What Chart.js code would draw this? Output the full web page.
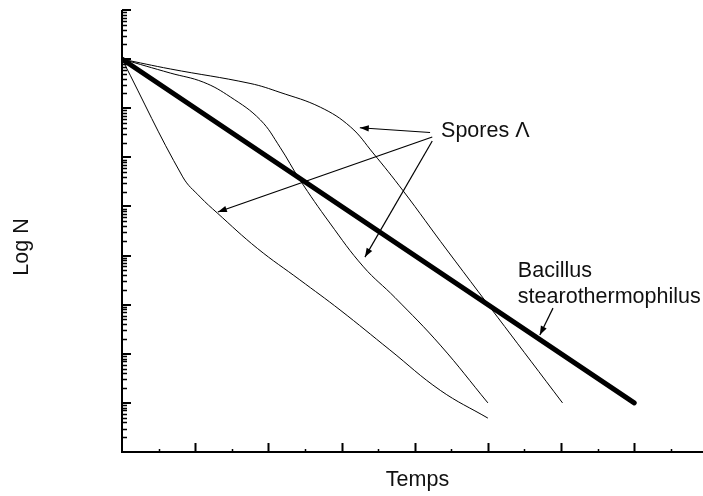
<!DOCTYPE html>
<html>
<head>
<meta charset="utf-8">
<script src="https://cdn.jsdelivr.net/npm/chart.js@4"></script>
<style>
  body { margin: 0; background: #fff; overflow: hidden; }
</style>
</head>
<body>
<canvas id="chart" width="703" height="496"></canvas>
<script>
"use strict";
// time (arbitrary units, one per major tick) and N values
const bacillusT = [0, 7];
const bacillusN = [1e8, 10];

const sporesFastT = [0, 0.83, 1.07, 1.30, 1.85, 2.43, 2.98, 3.66, 4.35, 5.0];
const sporesFastN = [1e8, 4.0e5, 1.55e5, 7.4e4, 1.4e4, 3.2e3, 780, 120, 18, 4.9];

const sporesMidT = [0, 0.66, 1.11, 1.48, 1.89, 2.16, 2.43, 2.84, 3.30, 3.73, 4.35, 5.0];
const sporesMidN = [1e8, 5.2e7, 3.4e7, 1.7e7, 5.8e6, 1.6e6, 3.5e5, 4.6e4, 5.9e3, 1.4e3, 150, 10];

const sporesSlowT = [0, 0.66, 1.75, 2.16, 2.71, 3.12, 3.43, 3.84, 4.44, 6.02];
const sporesSlowN = [1e8, 6.3e7, 3.2e7, 2.1e7, 1.05e7, 4.2e6, 1.23e6, 2.1e5, 1.3e4, 10];

// axis ticks
const majorT = [1, 2, 3, 4, 5, 6, 7];
const minorT = [0.5, 1.5, 2.5, 3.5, 4.5, 5.5, 6.5, 7.5];
const decades = [1, 10, 1e2, 1e3, 1e4, 1e5, 1e6, 1e7, 1e8, 1e9];

// annotation arrows [tailT, tailN, headT, headN]
const arrows = [
    [4.21, 3.2e6, 3.25, 4.0e6],
    [4.24, 2.6e6, 1.31, 7.7e4],
    [4.24, 2.15e6, 3.32, 9.3e3],
    [5.89, 850, 5.71, 240]
];

function pts(t, n) {
    return t.map((v, i) => ({ x: v, y: n[i] }));
}

function thin(t, n) {
    return {
        data: pts(t, n),
        borderColor: '#000',
        borderWidth: 1,
        pointRadius: 0,
        tension: 0.4,
        fill: false
    };
}

const FONT = '21.5px "Liberation Sans", Arial, sans-serif';

function arrowHead(ctx, x1, y1, x2, y2) {
    const a = Math.atan2(y2 - y1, x2 - x1);
    const len = 9, w = 3.2;
    ctx.beginPath();
    ctx.moveTo(x2, y2);
    ctx.lineTo(x2 - len * Math.cos(a) + w * Math.sin(a), y2 - len * Math.sin(a) - w * Math.cos(a));
    ctx.lineTo(x2 - len * Math.cos(a) - w * Math.sin(a), y2 - len * Math.sin(a) + w * Math.cos(a));
    ctx.closePath();
    ctx.fill();
}

const axesPlugin = {
    id: 'axesPlugin',
    afterDraw(chart) {
        const ctx = chart.ctx;
        const xs = chart.scales.x, ys = chart.scales.y;
        const area = chart.chartArea;
        const x0 = xs.getPixelForValue(0);
        const y0 = ys.getPixelForValue(1);
        ctx.save();
        ctx.strokeStyle = '#000';
        ctx.fillStyle = '#000';
        ctx.lineWidth = 2;
        // axis lines
        ctx.beginPath();
        ctx.moveTo(x0, ys.getPixelForValue(1e9));
        ctx.lineTo(x0, y0);
        ctx.lineTo(area.right, y0);
        ctx.stroke();
        // x ticks, pointing inward
        ctx.beginPath();
        majorT.forEach(t => {
            const px = Math.round(xs.getPixelForValue(t)) + 0.5;
            ctx.moveTo(px, y0); ctx.lineTo(px, y0 - 9);
        });
        ctx.stroke();
        ctx.lineWidth = 1.5;
        ctx.beginPath();
        minorT.forEach(t => {
            const px = Math.round(xs.getPixelForValue(t)) + 0.5;
            ctx.moveTo(px, y0); ctx.lineTo(px, y0 - 3);
        });
        ctx.stroke();
        // y ticks, log decades
        ctx.lineWidth = 2;
        ctx.beginPath();
        decades.forEach(d => {
            const py = Math.round(ys.getPixelForValue(d));
            ctx.moveTo(x0, py); ctx.lineTo(x0 + 9, py);
        });
        ctx.stroke();
        ctx.lineWidth = 1.5;
        ctx.beginPath();
        decades.slice(0, -1).forEach(d => {
            for (let k = 2; k <= 9; k++) {
                const py = Math.round(ys.getPixelForValue(d * k)) + 0.5;
                ctx.moveTo(x0, py); ctx.lineTo(x0 + 5, py);
            }
        });
        ctx.stroke();

        // arrows
        ctx.lineWidth = 1.2;
        arrows.forEach(a => {
            const x1 = xs.getPixelForValue(a[0]), y1 = ys.getPixelForValue(a[1]);
            const x2 = xs.getPixelForValue(a[2]), y2 = ys.getPixelForValue(a[3]);
            ctx.beginPath();
            ctx.moveTo(x1, y1); ctx.lineTo(x2, y2);
            ctx.stroke();
            arrowHead(ctx, x1, y1, x2, y2);
        });

        // texts
        ctx.font = FONT;
        ctx.textBaseline = 'alphabetic';
        ctx.textAlign = 'left';
        ctx.fillStyle = '#111';
        ctx.fillText('Spores \u039B', xs.getPixelForValue(4.36), ys.getPixelForValue(2.6e6));
        ctx.fillText('Bacillus', xs.getPixelForValue(5.41), ys.getPixelForValue(3.6e3));
        ctx.fillText('stearothermophilus', xs.getPixelForValue(5.41), ys.getPixelForValue(1.07e3));
        ctx.textAlign = 'center';
        ctx.fillText('Temps', (x0 + 703) / 2 + 5, 486);
        ctx.translate(28, 247);
        ctx.rotate(-Math.PI / 2);
        ctx.fillText('Log N', 0, 0);
        ctx.restore();
    }
};

new Chart(document.getElementById('chart').getContext('2d'), {
    type: 'line',
    data: {
        datasets: [
            thin(sporesFastT, sporesFastN),
            thin(sporesMidT, sporesMidN),
            thin(sporesSlowT, sporesSlowN),
            {
                data: pts(bacillusT, bacillusN),
                borderColor: '#000',
                borderWidth: 5,
                borderCapStyle: 'round',
                pointRadius: 0,
                fill: false
            }
        ]
    },
    options: {
        responsive: false,
        animation: false,
        layout: { padding: { left: 122, top: 10, right: 0, bottom: 44 } },
        plugins: { legend: { display: false }, tooltip: { enabled: false } },
        scales: {
            x: { type: 'linear', min: 0, max: 7.94, display: false },
            y: { type: 'logarithmic', min: 1, max: 1e9, display: false }
        }
    },
    plugins: [axesPlugin]
});
</script>
</body>
</html>
